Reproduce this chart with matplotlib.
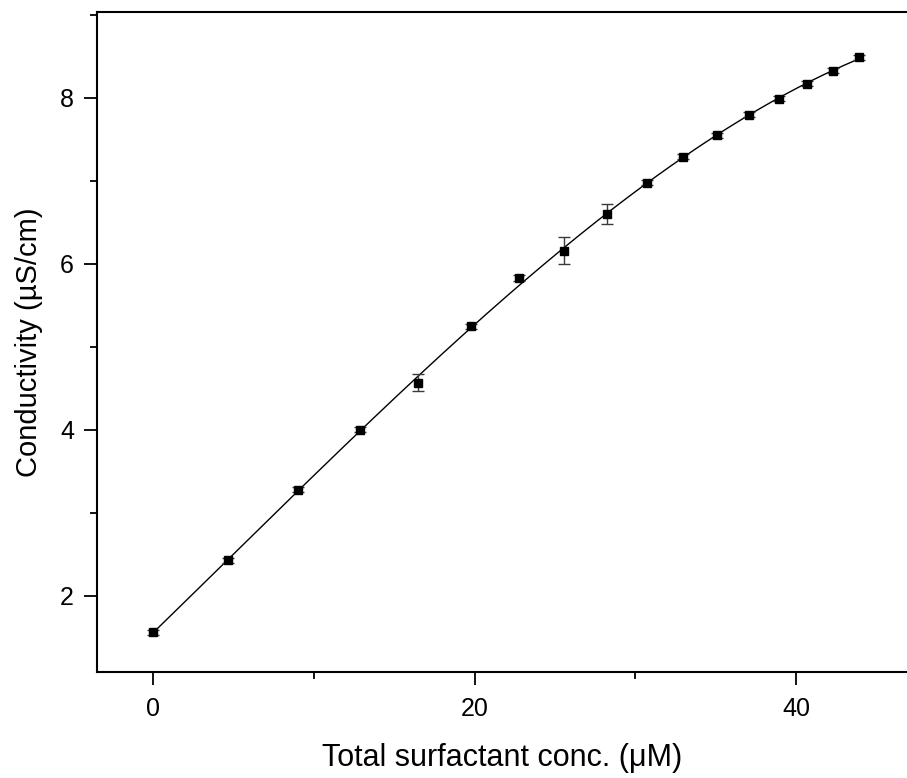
import numpy as np
import matplotlib
matplotlib.use("Agg")
import matplotlib.pyplot as plt
from matplotlib.ticker import MultipleLocator

plt.rcParams["font.family"] = ["Liberation Sans", "DejaVu Sans"]

# conductivity vs total surfactant concentration
conc = [0.0, 4.67, 9.02, 12.88, 16.49, 19.78, 22.77, 25.57, 28.24,
        30.73, 32.97, 35.09, 37.08, 38.94, 40.68, 42.30, 43.92]
cond = [1.56, 2.43, 3.28, 4.00, 4.57, 5.25, 5.83, 6.16, 6.60,
        6.98, 7.29, 7.55, 7.80, 7.99, 8.17, 8.33, 8.49]
cond_err = [0.03, 0.03, 0.03, 0.03, 0.10, 0.03, 0.04, 0.16, 0.12,
            0.03, 0.03, 0.03, 0.03, 0.03, 0.03, 0.03, 0.03]

fig = plt.figure(figsize=(9.07, 7.78), dpi=100)
ax = fig.add_axes([97 / 907, 1 - 672 / 778, 1 - 97 / 907, (672 - 12) / 778])

# polynomial fit through the measurements
coef = np.polyfit(conc, cond, 3)
xs = np.linspace(min(conc), max(conc), 200)
ax.plot(xs, np.polyval(coef, xs), color="black", lw=1.0, zorder=2)

ax.errorbar(conc, cond, yerr=cond_err, fmt="s", color="black", ms=5.2,
            ecolor="#3a3a3a", elinewidth=1.0, capsize=4, capthick=1.0,
            zorder=3)

ax.set_xlim(-3.48, 46.9)
ax.set_ylim(1.084, 9.036)
ax.xaxis.set_major_locator(MultipleLocator(20))
ax.xaxis.set_minor_locator(MultipleLocator(10))
ax.yaxis.set_major_locator(MultipleLocator(2))
ax.yaxis.set_minor_locator(MultipleLocator(1))

for side in ["left", "bottom", "top"]:
    ax.spines[side].set_linewidth(1.5)
ax.spines["right"].set_visible(False)

ax.tick_params(which="major", direction="out", length=9.5, width=1.3,
               labelsize=18, pad=7, top=False, right=False)
ax.tick_params(which="minor", direction="out", length=5, width=1.3,
               top=False, right=False)
ax.tick_params(axis="x", which="major", pad=8.5)

ax.set_xlabel("Total surfactant conc. (\u03bcM)", fontsize=22, labelpad=16)
ax.set_ylabel("Conductivity (\u00b5S/cm)", fontsize=21, labelpad=12)

fig.savefig("out.png", dpi=100)
